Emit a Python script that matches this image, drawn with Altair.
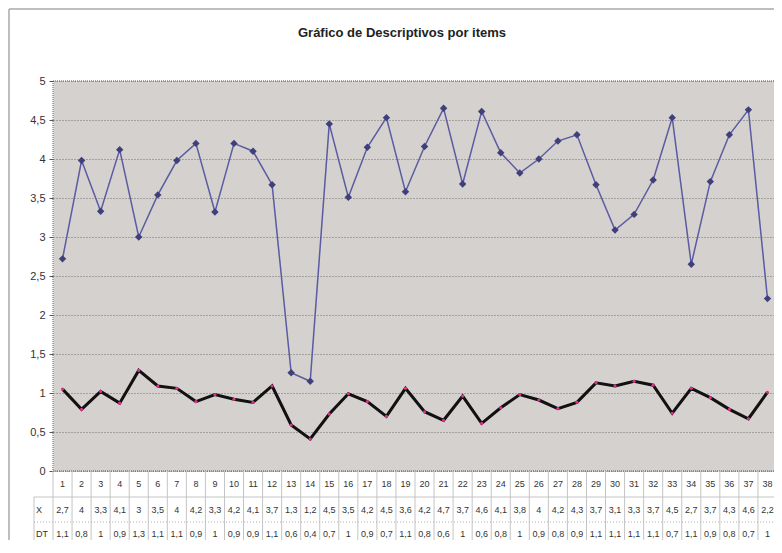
import altair as alt
import pandas as pd

# ---------------- data ----------------
items = list(range(1, 39))
x_vals = [2.72, 3.98, 3.33, 4.12, 3.00, 3.54, 3.98, 4.20, 3.32, 4.20,
          4.10, 3.67, 1.26, 1.15, 4.45, 3.51, 4.15, 4.53, 3.58, 4.16,
          4.65, 3.68, 4.61, 4.08, 3.82, 4.00, 4.23, 4.31, 3.67, 3.09,
          3.29, 3.73, 4.53, 2.65, 3.71, 4.31, 4.63, 2.21]
dt_vals = [1.05, 0.79, 1.02, 0.87, 1.29, 1.09, 1.06, 0.89, 0.98, 0.92,
           0.88, 1.09, 0.59, 0.41, 0.73, 0.99, 0.89, 0.70, 1.06, 0.76,
           0.65, 0.96, 0.61, 0.81, 0.98, 0.91, 0.80, 0.88, 1.13, 1.09,
           1.15, 1.10, 0.74, 1.06, 0.94, 0.79, 0.67, 1.01]
x_labels = ["2,7", "4", "3,3", "4,1", "3", "3,5", "4", "4,2", "3,3", "4,2",
            "4,1", "3,7", "1,3", "1,2", "4,5", "3,5", "4,2", "4,5", "3,6", "4,2",
            "4,7", "3,7", "4,6", "4,1", "3,8", "4", "4,2", "4,3", "3,7", "3,1",
            "3,3", "3,7", "4,5", "2,7", "3,7", "4,3", "4,6", "2,2"]
dt_labels = ["1,1", "0,8", "1", "0,9", "1,3", "1,1", "1,1", "0,9", "1", "0,9",
             "0,9", "1,1", "0,6", "0,4", "0,7", "1", "0,9", "0,7", "1,1", "0,8",
             "0,6", "1", "0,6", "0,8", "1", "0,9", "0,8", "0,9", "1,1", "1,1",
             "1,1", "1,1", "0,7", "1,1", "0,9", "0,8", "0,7", "1"]
series_names = ["X", "DT"]
title_text = "Gráfico de Descriptivos por items"
y_ticks = [0, 0.5, 1, 1.5, 2, 2.5, 3, 3.5, 4, 4.5, 5]

df = pd.DataFrame({"item": items, "X": x_vals, "DT": dt_vals,
                   "Xl": x_labels, "DTl": dt_labels})
bounds = pd.DataFrame({"b": [i + 0.5 for i in range(0, len(items) + 1)]})
one = pd.DataFrame({"a": [0]})

FONT = "Liberation Sans"
PLOT_W = 724     # plot width (slightly past the page edge)
PLOT_H = 390

xscale = alt.Scale(domain=[0.5, len(items) + 0.5], range=[0, PLOT_W], nice=False, zero=False)
yscale = alt.Scale(domain=[0, 5], nice=False)
yaxis = alt.Axis(values=y_ticks, title=None, domain=False, tickColor="#555555",
                 tickSize=4, labelPadding=4, labelFont=FONT, labelFontSize=11,
                 labelColor="#333333",
                 labelExpr="replace(toString(datum.value), '.', ',')",
                 grid=True, gridColor="#6f6f6f", gridDash=[1, 2], gridWidth=1)

base = alt.Chart(df)
X = alt.X("item:Q", scale=xscale, axis=None)
Y_X = alt.Y("X:Q", scale=yscale, axis=yaxis)
Y_DT = alt.Y("DT:Q", scale=yscale, axis=yaxis)

line_x = base.mark_line(color="#5b5ba2", strokeWidth=1.5).encode(x=X, y=Y_X)
pts_x = base.mark_point(shape="diamond", filled=True, size=55, color="#3f3f7c",
                        opacity=1).encode(x=X, y=Y_X)
line_dt = base.mark_line(color="#111111", strokeWidth=3).encode(x=X, y=Y_DT)
pts_dt = base.mark_point(filled=True, size=10, color="#e0308a", opacity=1).encode(
    x=X, y=Y_DT)

# plot borders (dotted)
border_top = alt.Chart(one).mark_rule(color="#555555", strokeDash=[1, 1]).encode(
    x=alt.value(0), x2=alt.value(PLOT_W), y=alt.value(0))
border_left = alt.Chart(one).mark_rule(color="#555555", strokeDash=[1, 1]).encode(
    x=alt.value(0), y=alt.value(0), y2=alt.value(PLOT_H))
border_bottom = alt.Chart(one).mark_rule(color="#555555", strokeDash=[1, 1]).encode(
    x=alt.value(0), x2=alt.value(PLOT_W), y=alt.value(PLOT_H))

# data table
ROW1 = PLOT_H + 13
ROW2 = PLOT_H + 38.5
ROW3 = PLOT_H + 62.5
vlines = alt.Chart(bounds).mark_rule(color="#c4c4c4").encode(
    x=alt.X("b:Q", scale=xscale, axis=None), y=alt.value(PLOT_H), y2=alt.value(PLOT_H + 74))
label_col = alt.Chart(one).mark_rule(color="#c4c4c4").encode(
    x=alt.value(-19), y=alt.value(PLOT_H + 26), y2=alt.value(PLOT_H + 74))
h1 = alt.Chart(one).mark_rule(color="#c4c4c4").encode(
    x=alt.value(-19), x2=alt.value(PLOT_W), y=alt.value(PLOT_H + 26))
h2 = alt.Chart(one).mark_rule(color="#b0b0b0", strokeDash=[1, 2]).encode(
    x=alt.value(-19), x2=alt.value(PLOT_W), y=alt.value(PLOT_H + 51))
h3 = alt.Chart(one).mark_rule(color="#c4c4c4").encode(
    x=alt.value(-19), x2=alt.value(PLOT_W), y=alt.value(PLOT_H + 74))

tkw = dict(font=FONT, fontSize=9, color="#333333", baseline="middle", align="center")
t_items = base.mark_text(**tkw).encode(x=X, y=alt.value(ROW1), text="item:N")
t_x = base.mark_text(**tkw).encode(x=X, y=alt.value(ROW2), text="Xl:N")
t_dt = base.mark_text(**tkw).encode(x=X, y=alt.value(ROW3), text="DTl:N")
t_lab_x = alt.Chart(pd.DataFrame({"name": [series_names[0]]})).mark_text(
    font=FONT, fontSize=9, color="#333333", baseline="middle", align="left").encode(
    x=alt.value(-17), y=alt.value(ROW2), text="name:N")
t_lab_dt = alt.Chart(pd.DataFrame({"name": [series_names[1]]})).mark_text(
    font=FONT, fontSize=9, color="#333333", baseline="middle", align="left").encode(
    x=alt.value(-17), y=alt.value(ROW3), text="name:N")

# title
title = alt.Chart(pd.DataFrame({"t": [title_text]})).mark_text(
    font=FONT, fontSize=13, fontWeight="bold", color="#222222", align="center",
    baseline="alphabetic").encode(x=alt.value(349), y=alt.value(-44), text="t:N")

# outer chart frame
frame_top = alt.Chart(one).mark_rule(color="#a8a8a8", strokeWidth=1.5).encode(
    x=alt.value(-44), x2=alt.value(PLOT_W + 20), y=alt.value(-72))
frame_left = alt.Chart(one).mark_rule(color="#a8a8a8", strokeWidth=1.5).encode(
    x=alt.value(-44), y=alt.value(-72), y2=alt.value(PLOT_H + 90))

chart = alt.layer(
    line_x, pts_x, line_dt, pts_dt,
    border_top, border_left, border_bottom,
    vlines, label_col, h1, h2, h3,
    t_items, t_x, t_dt, t_lab_x, t_lab_dt,
    title, frame_top, frame_left,
).properties(
    width=721, height=PLOT_H,
    autosize=alt.AutoSizeParams(type="none"),
    padding={"left": 45, "top": 73, "right": 0, "bottom": 69},
    background="white",
).configure_view(fill="#d4d1ce", strokeOpacity=0)

chart.save("out.html", embed_options={"renderer": "svg", "actions": False})
